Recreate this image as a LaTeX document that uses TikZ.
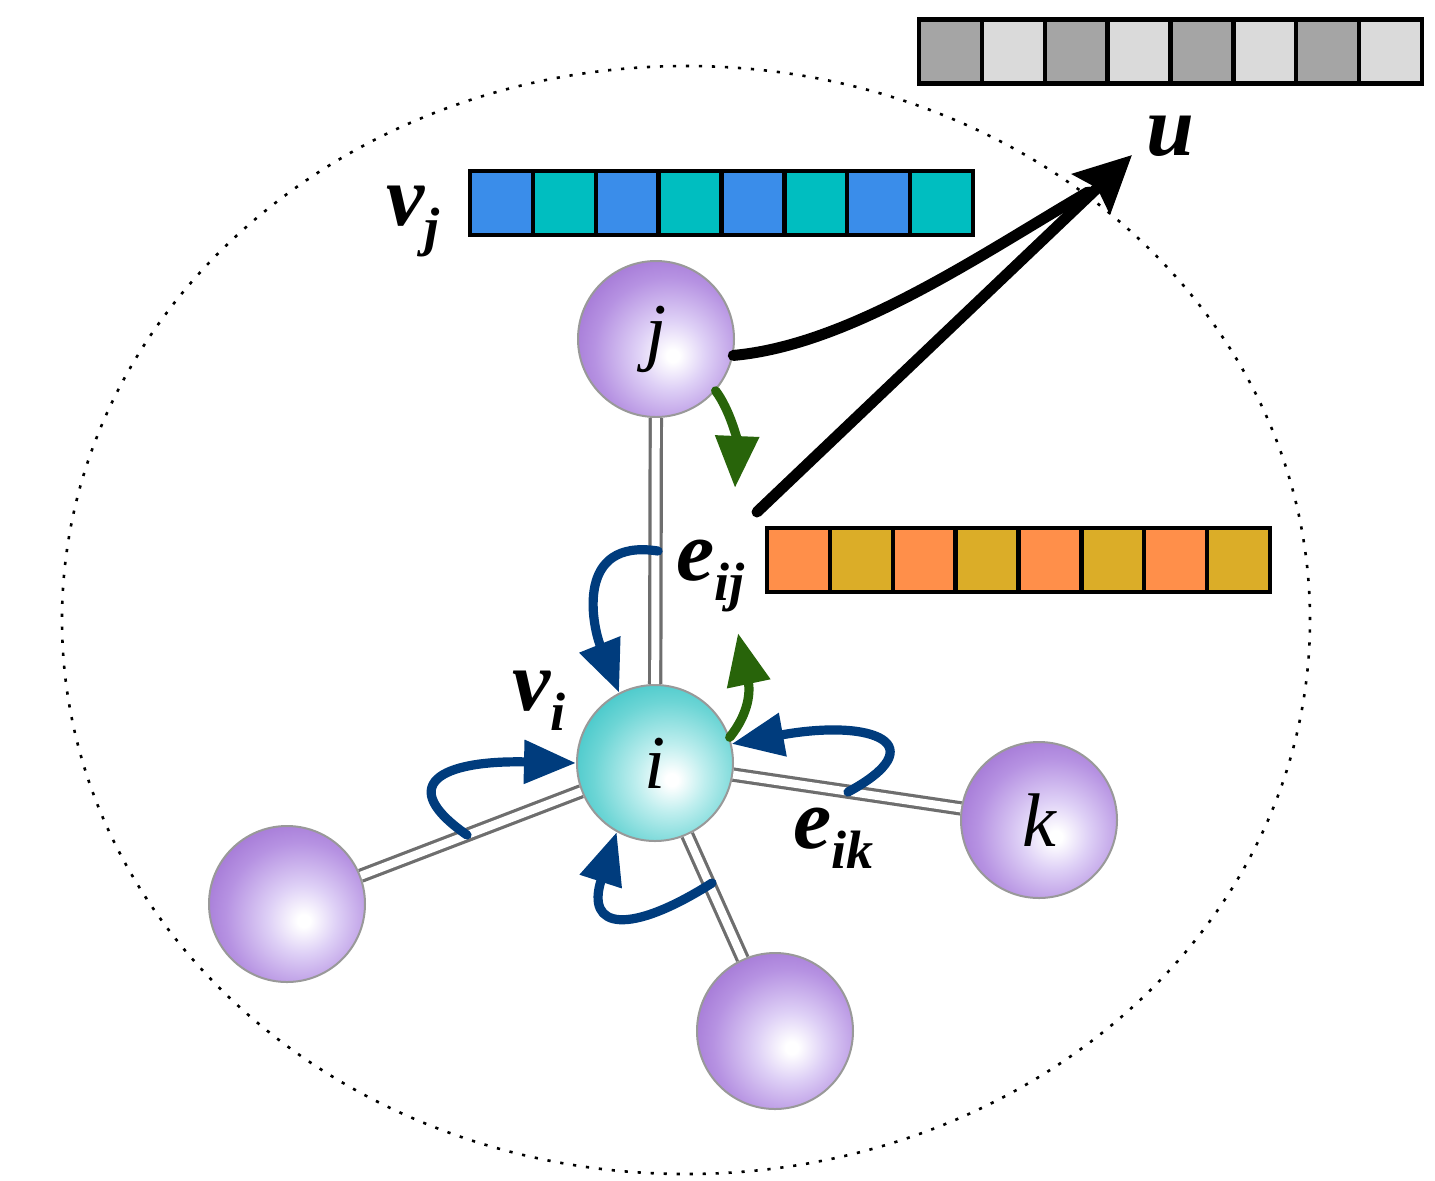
\documentclass[tikz,border=0pt]{standalone}
\usepackage{fontspec}
\setmainfont{Liberation Serif}
\usetikzlibrary{arrows.meta}

\definecolor{pdark}{RGB}{164,120,214}
\definecolor{pouter}{RGB}{182,146,226}
\definecolor{pmid}{RGB}{222,208,246}
\definecolor{cdark}{RGB}{70,200,202}
\definecolor{couter}{RGB}{108,213,213}
\definecolor{cmid}{RGB}{190,238,238}
\definecolor{gdark}{RGB}{165,165,165}
\definecolor{glight}{RGB}{218,218,218}
\definecolor{vblue}{RGB}{58,141,234}
\definecolor{vteal}{RGB}{0,190,192}
\definecolor{eorange}{RGB}{255,143,74}
\definecolor{egold}{RGB}{219,173,40}
\definecolor{arrblue}{RGB}{0,60,125}
\definecolor{arrgreen}{RGB}{40,100,10}
\definecolor{edgegray}{RGB}{110,110,110}

\pgfdeclareradialshading{purpleball}{\pgfpoint{5.5bp}{-5.5bp}}{color(0bp)=(white); color(2bp)=(white); color(11bp)=(pmid); color(24bp)=(pouter); color(32bp)=(pdark); color(100bp)=(pdark)}
\pgfdeclareradialshading{cyanball}{\pgfpoint{5.5bp}{-5.5bp}}{color(0bp)=(white); color(2bp)=(white); color(11bp)=(cmid); color(24bp)=(couter); color(32bp)=(cdark); color(100bp)=(cdark)}

\newcommand\mainl[1]{{\fontsize{43}{43}\selectfont\bfseries\itshape #1}}
\newcommand\subl[1]{\raisebox{-10pt}{\fontsize{27}{27}\selectfont\bfseries\itshape #1}}
\newcommand\cellrow[5]{%
  \foreach \n in {0,...,7}{%
    \ifodd\n\def\cc{#5}\else\def\cc{#4}\fi
    \node[cell, fill=\cc] (#1-\n) at ({#2+(\n+0.5)*62.875}, #3) {};
  }}

\tikzset{
  ball/.style={circle, minimum size=78pt, inner sep=0pt, draw=gray!80, line width=1pt, shade, shading=purpleball, font=\fontsize{38}{38}\selectfont\itshape},
  cyball/.style={ball, shading=cyanball},
  dbl/.style={draw=edgegray, line width=1.6pt, double=white, double distance=4pt},
  cell/.style={rectangle, draw=black, line width=2.2pt, minimum width=31.44pt, minimum height=32pt, inner sep=0pt, outer sep=0pt},
  lab/.style={anchor=base west, inner sep=0pt},
  bluearr/.style={draw=arrblue, line width=4.6pt, line cap=round, -{Triangle[length=26pt,width=21pt]}},
  greenarr/.style={draw=arrgreen, line width=4.6pt, line cap=round, -{Triangle[length=26pt,width=21pt]}},
  blackline/.style={draw=black, line width=5.5pt, line cap=round},
  dots/.style={draw=black, line width=1.3pt, dash pattern=on 1.6pt off 4.9pt}
}

\begin{document}
\begin{tikzpicture}[x=0.5pt, y=-0.5pt]
\useasboundingbox (0,0) rectangle (1435,1180);

% dotted boundary
\draw[dots] (686,620) ellipse [x radius=312pt, y radius=277pt];

% vectors
\cellrow{ubar}{919}{51.5}{gdark}{glight}
\cellrow{vjbar}{470}{203}{vblue}{vteal}
\cellrow{eijbar}{767}{560}{eorange}{egold}

% nodes
\node[ball] (j) at (656,339) {\raisebox{-5pt}{j}};
\node[cyball] (i) at (655,763) {i};
\node[ball] (k) at (1039,820) {k};
\node[ball] (l) at (287,904) {};
\node[ball] (b) at (775,1031) {};

% edges
\draw[dbl] (j) -- (i);
\draw[dbl] (i) -- (k);
\draw[dbl] (i) -- (l);
\draw[dbl] (i) -- (b);

% labels
\node[lab] (vj) at (386,225) {\mainl{v}\subl{j}};
\node[lab] (u) at (1146,155) {\mainl{u}};
\node[lab] (eij) at (676,580) {\mainl{e}\subl{ij}};
\node[lab] (vi) at (512,710) {\mainl{v}\subl{i}};
\node[lab] (eik) at (793,848) {\mainl{e}\subl{ik}};

% coordinates
\coordinate (utip) at (1132,155);
\coordinate (eijout) at (757,512);
\coordinate (g1e) at (735,488);
\coordinate (g2e) at (738,633);
\coordinate (b1s) at (658,551);
\coordinate (b2s) at (467,835);
\coordinate (b3s) at (712,883);
\coordinate (b4s) at (848,792);
\coordinate (jcurveend) at (1088,192);

% black arrows to u
\draw[blackline] (j.-12) .. controls (850,345) and (980,255) .. (jcurveend);
\draw[blackline, -{Stealth[length=28pt,width=27pt,inset=4pt]}] (eijout) -- (utip);

% green arrows
\draw[greenarr] (j.-41) .. controls (730,410) and (737,440) .. (g1e);
\draw[greenarr] (i.19) .. controls (750,712) and (750,690) .. (g2e);

% blue arrows
\draw[bluearr] (b1s) .. controls (575,538) and (592,625) .. (i.117);
\draw[bluearr] (b2s) .. controls (395,785) and (440,760) .. (i.180);
\draw[bluearr] (b3s) .. controls (630,935) and (585,930) .. (i.241);
\draw[bluearr] (b4s) .. controls (935,745) and (875,718) .. (i.14);
\end{tikzpicture}
\end{document}
